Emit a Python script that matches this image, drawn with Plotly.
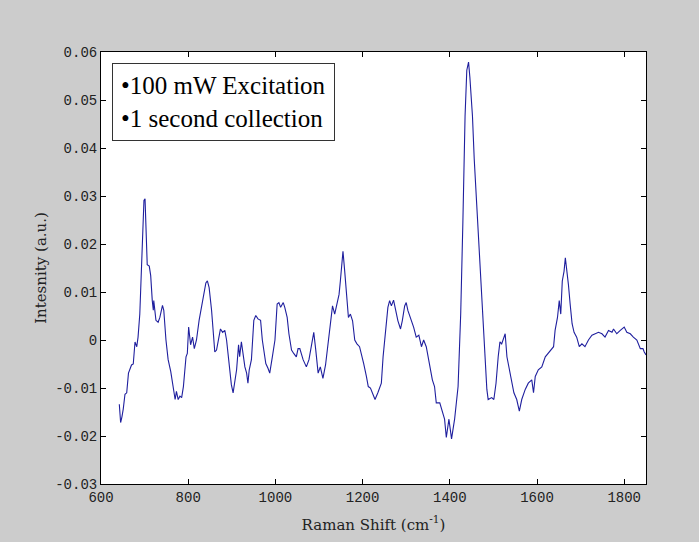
import plotly.graph_objects as go

raman_shift = [642, 645, 648, 651, 655, 659, 663, 667, 670, 674, 678, 682, 685, 689, 693, 695.5, 698.5, 701, 703, 706,
               710.7, 714, 717.6, 720, 721, 724, 726, 731, 735, 741, 744, 749, 754, 760, 766, 770, 773, 777, 781, 785,
               789, 795, 798, 801, 805.5, 810, 814, 819, 825, 831, 836, 840.5, 844, 848, 853.6, 857, 861, 865, 869, 874,
               879, 884, 888, 894, 899, 903, 907, 911, 915.5, 918, 922, 926, 930, 934, 937, 940, 945, 950.5, 955, 960,
               966, 970, 974, 978, 983, 987, 993, 999, 1004, 1008, 1012, 1018, 1021.5, 1027, 1031, 1037, 1042, 1048,
               1052, 1056, 1063.5, 1071, 1077, 1083, 1088, 1092.6, 1098, 1103, 1109, 1115, 1121, 1126, 1131, 1136,
               1140, 1146, 1149, 1153, 1155, 1159, 1163, 1167.5, 1172, 1177, 1182, 1187, 1193, 1197, 1202.5, 1208.7,
               1213, 1218, 1224, 1228.5, 1235, 1243, 1247, 1253, 1258, 1262, 1266, 1271, 1276, 1281, 1287, 1291,
               1296.5, 1300, 1304, 1309.5, 1317, 1323, 1329, 1335, 1340, 1346, 1354, 1360, 1365, 1369, 1377, 1383,
               1388, 1392, 1398, 1404, 1411, 1419, 1425, 1430, 1435, 1439, 1443, 1446, 1452, 1456, 1462, 1468, 1473,
               1478.5, 1485, 1488, 1496, 1501, 1506, 1511, 1515, 1519, 1524, 1527, 1531, 1537, 1542, 1547, 1553.5,
               1559.5, 1565, 1573, 1580, 1588, 1592, 1596, 1603, 1611, 1619, 1626, 1632, 1638, 1641.5, 1647, 1651,
               1654.5, 1658, 1662, 1665, 1668, 1672, 1676, 1680.5, 1685, 1691, 1697, 1703, 1710, 1718, 1726, 1733,
               1741, 1749, 1756, 1764, 1772, 1775.5, 1783, 1791, 1800, 1806, 1814, 1821, 1829, 1837, 1843, 1846, 1850]

intensity = [-0.0134, -0.0172, -0.0160, -0.0144, -0.0113, -0.0110, -0.0069, -0.0060, -0.0052, -0.0050, -0.0004,
             -0.0014, 0.0006, 0.0054, 0.0164, 0.0212, 0.0291, 0.0294, 0.0253, 0.0157, 0.0154, 0.0134, 0.0082, 0.0062,
             0.0082, 0.0060, 0.0041, 0.0037, 0.0047, 0.0072, 0.0062, 0.0000, -0.0041, -0.0066, -0.0103, -0.0124,
             -0.0107, -0.0124, -0.0117, -0.0120, -0.0097, -0.0035, -0.0028, 0.0027, -0.0010, 0.0006, -0.0018, 0.0000,
             0.0041, 0.0075, 0.0095, 0.0119, 0.0123, 0.0109, 0.0062, 0.0020, -0.0025, -0.0021, 0.0000, 0.0023, 0.0016,
             0.0020, 0.0000, -0.0049, -0.0093, -0.0110, -0.0082, -0.0062, -0.0010, -0.0035, -0.0004, -0.0028, -0.0056,
             -0.0069, -0.0090, -0.0062, -0.0041, 0.0041, 0.0051, 0.0044, 0.0041, 0.0000, -0.0021, -0.0049, -0.0059,
             -0.0069, -0.0035, 0.0000, 0.0075, 0.0078, 0.0068, 0.0078, 0.0068, 0.0047, 0.0013, -0.0021, -0.0028,
             -0.0035, -0.0018, -0.0018, -0.0041, -0.0056, -0.0041, -0.0014, 0.0016, -0.0021, -0.0069, -0.0056,
             -0.0080, -0.0052, -0.0008, 0.0034, 0.0071, 0.0054, 0.0068, 0.0095, 0.0123, 0.0164, 0.0185, 0.0143,
             0.0095, 0.0047, 0.0054, 0.0040, 0.0000, -0.0008, -0.0014, -0.0028, -0.0049, -0.0076, -0.0097, -0.0100,
             -0.0114, -0.0124, -0.0110, -0.0090, -0.0035, 0.0027, 0.0068, 0.0082, 0.0071, 0.0083, 0.0061, 0.0040,
             0.0023, 0.0040, 0.0071, 0.0078, 0.0061, 0.0047, 0.0027, 0.0006, 0.0010, -0.0014, 0.0000, -0.0014,
             -0.0049, -0.0083, -0.0097, -0.0131, -0.0131, -0.0152, -0.0165, -0.0203, -0.0165, -0.0206, -0.0165,
             -0.0097, 0.0054, 0.0246, 0.0466, 0.0562, 0.0579, 0.0548, 0.0466, 0.0377, 0.0274, 0.0178, 0.0088,
             -0.0014, -0.0103, -0.0124, -0.0120, -0.0124, -0.0090, -0.0035, -0.0004, -0.0008, 0.0006, 0.0013,
             -0.0035, -0.0062, -0.0090, -0.0110, -0.0124, -0.0148, -0.0124, -0.0103, -0.0090, -0.0083, -0.0110,
             -0.0076, -0.0062, -0.0056, -0.0035, -0.0028, -0.0021, -0.0014, 0.0020, 0.0047, 0.0082, 0.0054, 0.0123,
             0.0143, 0.0171, 0.0150, 0.0116, 0.0075, 0.0034, 0.0016, 0.0006, -0.0014, -0.0008, -0.0014, 0.0000,
             0.0010, 0.0013, 0.0016, 0.0013, 0.0006, 0.0020, 0.0016, 0.0023, 0.0013, 0.0020, 0.0027, 0.0016, 0.0013,
             0.0006, 0.0000, -0.0018, -0.0018, -0.0025, -0.0031]

x_ticks = [600, 800, 1000, 1200, 1400, 1600, 1800]
x_tick_labels = ["600", "800", "1000", "1200", "1400", "1600", "1800"]
y_ticks = [-0.03, -0.02, -0.01, 0, 0.01, 0.02, 0.03, 0.04, 0.05, 0.06]
y_tick_labels = ["-0.03", "-0.02", "-0.01", "0", "0.01", "0.02", "0.03", "0.04", "0.05", "0.06"]

fig = go.Figure()
fig.add_trace(go.Scatter(x=raman_shift, y=intensity, mode="lines",
                         line=dict(color="#1f1f9e", width=1.1), showlegend=False))

tick_font = dict(family="Liberation Mono", size=14, color="#222222")
title_font = dict(family="DejaVu Serif", size=15, color="#222222")

fig.update_layout(
    width=699, height=542,
    paper_bgcolor="#cccccc", plot_bgcolor="#ffffff",
    margin=dict(l=101, r=53, t=52, b=53),
    xaxis=dict(range=[600, 1850], tickvals=x_ticks, ticktext=x_tick_labels,
               ticks="inside", ticklen=5, tickcolor="#000", showline=True, linecolor="#000",
               linewidth=1, mirror="ticks", showgrid=False, zeroline=False, tickfont=tick_font,
               title=dict(text="Raman Shift (cm<sup>-1</sup>)", font=title_font, standoff=14)),
    yaxis=dict(range=[-0.03, 0.06], tickvals=y_ticks, ticktext=y_tick_labels,
               ticks="inside", ticklen=5, tickcolor="#000", showline=True, linecolor="#000",
               linewidth=1, mirror="ticks", showgrid=False, zeroline=False, tickfont=tick_font,
               title=dict(text="Intesnity (a.u.)", font=title_font, standoff=4)),
    annotations=[dict(
        text="•100 mW Excitation<br>•1 second collection",
        xref="paper", yref="paper", x=11 / 545, y=1 - 11 / 437,
        xanchor="left", yanchor="top", showarrow=False, align="left",
        font=dict(family="Liberation Serif", size=25, color="#000"),
        bgcolor="#ffffff", bordercolor="#333333", borderwidth=1, borderpad=8)],
)

fig.write_html("out.html", config={"displayModeBar": False},
               post_script="document.body.style.margin='0';")
